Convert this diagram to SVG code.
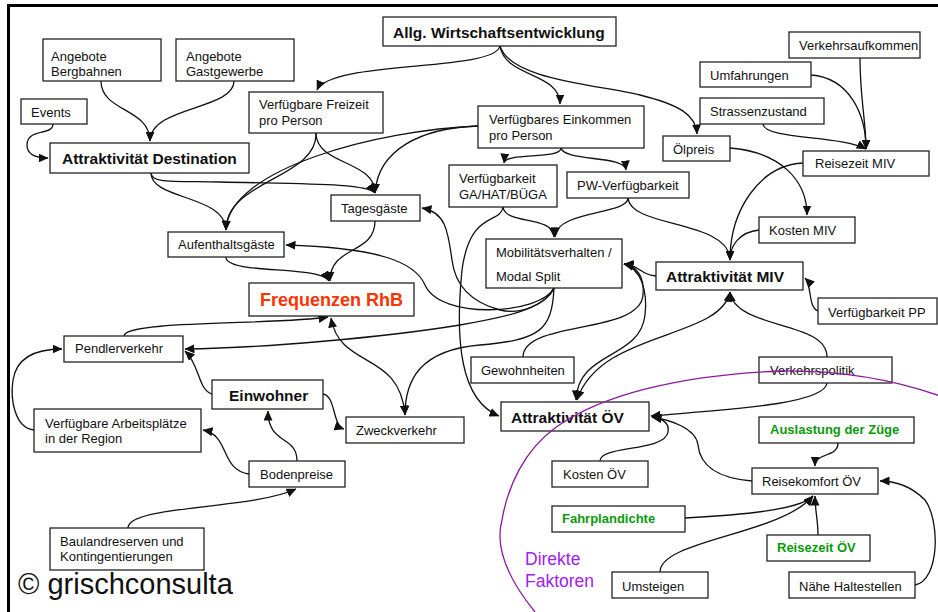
<svg xmlns="http://www.w3.org/2000/svg" width="938" height="612" viewBox="0 0 938 612">
<style>
  .box{fill:#fff;stroke:#222;stroke-width:1.3}
  .t{font-family:"Liberation Sans",Arial,sans-serif;font-size:13px;fill:#111}
  .b{font-family:"Liberation Sans",Arial,sans-serif;font-size:15.5px;font-weight:bold;fill:#111}
  .g{font-family:"Liberation Sans",Arial,sans-serif;font-size:13px;font-weight:bold;fill:#0a9a0a}
  .c path{fill:none;stroke:#111;stroke-width:1.3;marker-end:url(#ah)}
  .c path.bi{marker-start:url(#ah)}
</style>
<defs>
  <marker id="ah" markerUnits="userSpaceOnUse" markerWidth="10" markerHeight="9" viewBox="0 0 10 9" refX="9.5" refY="4.5" orient="auto-start-reverse">
    <path d="M0,0 L10,4.5 L0,9 z" fill="#111"/>
  </marker>
</defs>
<rect width="938" height="612" fill="#fff"/>
<path d="M8.5,612 L8.5,5.5 L938,5.5" fill="none" stroke="#000" stroke-width="3"/>

<g class="c" id="connectors">
  <path d="M101,81 C101,112 150,108 150,141"/>
  <path d="M234,81 C234,110 150,106 150,141"/>
  <path d="M53,124 C53,136 27,128 27,145 C27,156 38,158 48,158"/>
  <path d="M151,173 C151,200 226,195 226,230"/>
  <path d="M151,173 C151,183 170,181 220,182 C300,184 368,183 375,193"/>
  <path d="M500,46 C495,72 330,60 317,90"/>
  <path d="M500,46 C505,78 560,72 560,104"/>
  <path d="M500,46 C510,80 600,85 640,95 C680,105 696,115 697,134"/>
  <path d="M316,133 C318,178 226,180 226,230"/>
  <path d="M316,133 C316,165 375,160 375,193"/>
  <path d="M478,126 C420,128 378,150 375,193"/>
  <path d="M478,126 C380,130 228,168 226,230"/>
  <path d="M561,148 C561,160 505,152 504,163"/>
  <path d="M561,148 C565,162 625,155 626,170"/>
  <path d="M730,148 C780,152 807,180 807,215"/>
  <path d="M811,75 C850,78 866,115 866,149"/>
  <path d="M860,58 C860,100 866,120 866,149"/>
  <path d="M763,124 C765,140 840,135 866,149"/>
  <path d="M803,163 C760,165 730,210 730,260"/>
  <path d="M759,230 C740,232 730,245 730,260"/>
  <path d="M628,198 C630,228 730,220 730,260"/>
  <path d="M628,198 C628,215 556,210 555,237"/>
  <path d="M503,207 C505,225 553,215 554,237"/>
  <path d="M503,207 C500,225 470,210 462,270 C455,340 460,400 499,416"/>
  <path d="M656,276 C640,275 640,265 624,264"/>
  <path d="M523,357 C523,320 640,335 643,295 C645,275 635,266 624,264"/>
  <path class="bi" d="M624,264 C640,268 648,290 645,315 C640,360 578,350 576,400"/>
  <path class="bi" d="M730,292 C720,340 600,330 577,400"/>
  <path d="M827,357 C827,320 735,330 730,292"/>
  <path d="M818,311 C808,308 812,285 805,278"/>
  <path d="M554,288 C540,315 440,320 425,285 C415,262 380,248 286,245"/>
  <path d="M554,288 C545,305 520,315 500,310 C470,302 455,285 452,260 C448,230 445,212 422,208"/>
  <path d="M554,288 C545,310 500,318 460,325 C380,338 260,348 185,349"/>
  <path d="M554,288 C552,330 540,340 480,345 C420,350 405,380 405,415"/>
  <path d="M375,221 C375,255 330,245 330,281"/>
  <path d="M226,257 C226,275 320,265 329,281"/>
  <path d="M124,336 C124,320 280,325 328,317"/>
  <path class="bi" d="M331,318 C340,370 400,350 405,415"/>
  <path d="M212,394 C198,390 200,365 185,351"/>
  <path d="M323,394 C336,396 332,425 344,429"/>
  <path d="M297,461 C297,435 268,445 268,411"/>
  <path d="M249,474 C220,470 230,435 203,430"/>
  <path d="M34,430 C15,428 10,400 13,380 C17,355 40,349 62,349"/>
  <path d="M128,528 C128,505 250,510 296,489"/>
  <path d="M827,383 C825,405 720,410 651,416"/>
  <path d="M600,461 C600,445 665,452 668,432 C670,422 660,418 652,417"/>
  <path d="M752,481 C715,478 700,465 698,445 C696,428 670,420 652,417"/>
  <path d="M838,443 C838,458 815,452 815,466"/>
  <path d="M915,585 C940,580 940,520 925,500 C910,485 895,481 880,481"/>
  <path d="M685,518 C740,515 800,510 813,496"/>
  <path d="M660,572 C660,540 780,535 813,496"/>
  <path d="M818,535 C818,520 815,510 815,496"/>
</g>

<g id="n_bergbahnen"><rect class="box" x="43" y="39" width="118" height="42"/><text class="t" x="51" y="61">Angebote</text><text class="t" x="51" y="76">Bergbahnen</text></g>
<g id="n_gastgewerbe"><rect class="box" x="176" y="39" width="118" height="42"/><text class="t" x="186" y="61">Angebote</text><text class="t" x="186" y="76">Gastgewerbe</text></g>
<g id="n_events"><rect class="box" x="21" y="99" width="66" height="25"/><text class="t" x="31" y="117">Events</text></g>
<g id="n_attrdest"><rect class="box" x="50" y="143" width="199" height="30"/><text class="b" x="62" y="164">Attraktivität Destination</text></g>
<g id="n_allg"><rect class="box" x="383" y="17" width="233" height="29"/><text class="b" x="393" y="38">Allg. Wirtschaftsentwicklung</text></g>
<g id="n_freizeit"><rect class="box" x="249" y="92" width="134" height="41"/><text class="t" x="259" y="109">Verfügbare Freizeit</text><text class="t" x="259" y="125">pro Person</text></g>
<g id="n_einkommen"><rect class="box" x="478" y="106" width="166" height="42"/><text class="t" x="489" y="124">Verfügbares Einkommen</text><text class="t" x="489" y="140">pro Person</text></g>
<g id="n_oelpreis"><rect class="box" x="663" y="136" width="67" height="25"/><text class="t" x="673" y="154">Ölpreis</text></g>
<g id="n_ga"><rect class="box" x="449" y="165" width="108" height="42"/><text class="t" x="459" y="183">Verfügbarkeit</text><text class="t" x="459" y="199">GA/HAT/BÜGA</text></g>
<g id="n_pw"><rect class="box" x="567" y="172" width="122" height="26"/><text class="t" x="577" y="190">PW-Verfügbarkeit</text></g>
<g id="n_tages"><rect class="box" x="331" y="195" width="89" height="26"/><text class="t" x="341" y="213">Tagesgäste</text></g>
<g id="n_aufenthalt"><rect class="box" x="168" y="232" width="116" height="25"/><text class="t" x="178" y="249">Aufenthaltsgäste</text></g>
<g id="n_mob"><rect class="box" x="486" y="239" width="136" height="49"/><text class="t" x="496" y="257">Mobilitätsverhalten /</text><text class="t" x="496" y="281">Modal Split</text></g>
<g id="n_attrmiv"><rect class="box" x="656" y="262" width="147" height="28"/><text class="b" x="666" y="282">Attraktivität MIV</text></g>
<g id="n_kostenmiv"><rect class="box" x="759" y="217" width="96" height="26"/><text class="t" x="769" y="235">Kosten MIV</text></g>
<g id="n_reisezeitmiv"><rect class="box" x="803" y="151" width="126" height="25"/><text class="t" x="815" y="168">Reisezeit MIV</text></g>
<g id="n_umfahrungen"><rect class="box" x="700" y="62" width="111" height="25"/><text class="t" x="710" y="80">Umfahrungen</text></g>
<g id="n_strassen"><rect class="box" x="700" y="98" width="124" height="26"/><text class="t" x="710" y="116">Strassenzustand</text></g>
<g id="n_verkehrsaufkommen"><rect class="box" x="789" y="32" width="131" height="26"/><text class="t" x="799" y="50">Verkehrsaufkommen</text></g>
<g id="n_pp"><rect class="box" x="818" y="298" width="119" height="26"/><text class="t" x="828" y="317">Verfügbarkeit PP</text></g>
<g id="n_politik"><rect class="box" x="759" y="357" width="133" height="26"/><text class="t" x="770" y="375">Verkehrspolitik</text></g>
<g id="n_gewohn"><rect class="box" x="471" y="357" width="103" height="26"/><text class="t" x="481" y="375">Gewohnheiten</text></g>
<g id="n_attroev"><rect class="box" x="501" y="402" width="148" height="29"/><text class="b" x="511" y="423">Attraktivität ÖV</text></g>
<g id="n_freq"><rect class="box" x="249" y="283" width="165" height="33"/><text x="260" y="306" font-family="Liberation Sans, Arial, sans-serif" font-size="18" font-weight="bold" fill="#ff3300">Frequenzen RhB</text></g>
<g id="n_pendler"><rect class="box" x="64" y="336" width="119" height="26"/><text class="t" x="75" y="353">Pendlerverkehr</text></g>
<g id="n_einwohner"><rect class="box" x="212" y="380" width="111" height="29"/><text class="b" x="229" y="401">Einwohner</text></g>
<g id="n_arbeitsplaetze"><rect class="box" x="34" y="409" width="167" height="43"/><text class="t" x="45" y="428">Verfügbare Arbeitsplätze</text><text class="t" x="45" y="443">in der Region</text></g>
<g id="n_zweck"><rect class="box" x="346" y="417" width="118" height="26"/><text class="t" x="356" y="435">Zweckverkehr</text></g>
<g id="n_boden"><rect class="box" x="249" y="461" width="96" height="26"/><text class="t" x="260" y="479">Bodenpreise</text></g>
<g id="n_bauland"><rect class="box" x="50" y="528" width="154" height="42"/><text class="t" x="60" y="546">Baulandreserven und</text><text class="t" x="60" y="561">Kontingentierungen</text></g>
<g id="n_auslastung"><rect class="box" x="759" y="417" width="155" height="26"/><text class="g" x="770" y="434">Auslastung der Züge</text></g>
<g id="n_kostenoev"><rect class="box" x="552" y="461" width="96" height="26"/><text class="t" x="563" y="479">Kosten ÖV</text></g>
<g id="n_reisekomfort"><rect class="box" x="752" y="468" width="126" height="26"/><text class="t" x="762" y="486">Reisekomfort ÖV</text></g>
<g id="n_fahrplan"><rect class="box" x="552" y="506" width="133" height="26"/><text class="g" x="562" y="523">Fahrplandichte</text></g>
<g id="n_reisezeitoev"><rect class="box" x="767" y="535" width="103" height="26"/><text class="g" x="777" y="552">Reisezeit ÖV</text></g>
<g id="n_umsteigen"><rect class="box" x="612" y="572" width="96" height="26"/><text class="t" x="622" y="591">Umsteigen</text></g>
<g id="n_naehe"><rect class="box" x="789" y="572" width="126" height="26"/><text class="t" x="799" y="591">Nähe Haltestellen</text></g>

<path id="zone" d="M535,612 C505,575 495,545 502,520 C508,485 525,450 555,428 C600,395 680,375 780,371 C850,370 900,382 940,396" fill="none" stroke="#8a1a9a" stroke-width="1.3"/>
<g id="label_direkt"><text x="525" y="565" font-family="Liberation Sans, Arial, sans-serif" font-size="17.5" fill="#a020f0">Direkte</text><text x="525" y="587" font-family="Liberation Sans, Arial, sans-serif" font-size="17.5" fill="#a020f0">Faktoren</text></g>
<text x="18" y="594" font-family="Liberation Sans, Arial, sans-serif" font-size="29" fill="#111">© grischconsulta</text>
</svg>
